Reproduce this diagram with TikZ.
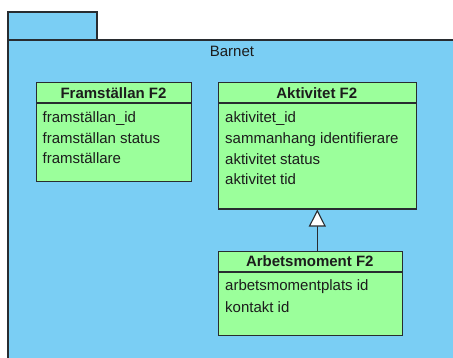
\documentclass[tikz,border=0pt]{standalone}
\usepackage{fontspec}
\setmainfont{Liberation Sans}
\usetikzlibrary{arrows.meta}
\definecolor{pkgblue}{RGB}{122,206,244}
\definecolor{clsgreen}{RGB}{155,255,155}
\definecolor{edge}{RGB}{40,44,48}
\definecolor{ink}{RGB}{28,28,28}
\tikzset{
  classbox/.style={draw=edge, line width=1.1pt, fill=clsgreen, anchor=north west, inner sep=0pt},
  classtitle/.style={font=\fontsize{15}{18}\selectfont\bfseries, text=ink, anchor=base, inner sep=0pt},
  attr/.style={font=\fontsize{15}{18}\selectfont, text=ink, anchor=base west, inner sep=0pt},
  divider/.style={draw=edge, line width=1.1pt},
  pkgline/.style={draw=edge, line width=1.1pt},
  inherit/.style={draw=edge, line width=1.1pt, -{Triangle[length=17pt,width=17pt,fill=white,line width=1.1pt]}}
}
\begin{document}
\begin{tikzpicture}[x=1pt,y=-1pt]
  \useasboundingbox (0,0) rectangle (453,358);
  % package "Barnet": tab and body running off the right and bottom edges
  \fill[pkgblue] (8,12) rectangle (97,40);
  \draw[pkgline] (8,40) -- (8,12) -- (97,12) -- (97,40);
  \fill[pkgblue] (8,40) rectangle (453,358);
  \draw[pkgline] (8,358) -- (8,40) -- (453,40);
  \node[font=\fontsize{15}{18}\selectfont, text=ink, anchor=base, inner sep=0pt] (pkgname) at (232,56.5) {Barnet};

  % class Framställan F2
  \node[classbox, minimum width=155pt, minimum height=99pt] (fram) at (36,82) {};
  \draw[divider] ([yshift=-21pt]fram.north west) -- ([yshift=-21pt]fram.north east);
  \node[classtitle] (framT) at (113.5,99) {Framställan F2};
  \node[attr] (fram1) at (42.5,122.5) {framställan\_id};
  \node[attr] (fram2) at (42.5,143.3) {framställan status};
  \node[attr] (fram3) at (42.5,164) {framställare};

  % class Aktivitet F2
  \node[classbox, minimum width=197.5pt, minimum height=126.5pt] (akt) at (218,82) {};
  \draw[divider] ([yshift=-21pt]akt.north west) -- ([yshift=-21pt]akt.north east);
  \node[classtitle] (aktT) at (316.8,99) {Aktivitet F2};
  \node[attr] (akt1) at (225,122.7) {aktivitet\_id};
  \node[attr] (akt2) at (225,143.5) {sammanhang identifierare};
  \node[attr] (akt3) at (225,164.3) {aktivitet status};
  \node[attr] (akt4) at (225,185) {aktivitet tid};

  % class Arbetsmoment F2
  \node[classbox, minimum width=183.5pt, minimum height=84pt] (arb) at (218,251) {};
  \draw[divider] ([yshift=-21pt]arb.north west) -- ([yshift=-21pt]arb.north east);
  \node[classtitle] (arbT) at (309.8,266.7) {Arbetsmoment F2};
  \node[attr] (arb1) at (225,291) {arbetsmomentplats id};
  \node[attr] (arb2) at (225,312.3) {kontakt id};

  % generalisation Arbetsmoment -> Aktivitet
  \draw[inherit] (akt.south |- arb.north) -- (akt.south);
\end{tikzpicture}
\end{document}
